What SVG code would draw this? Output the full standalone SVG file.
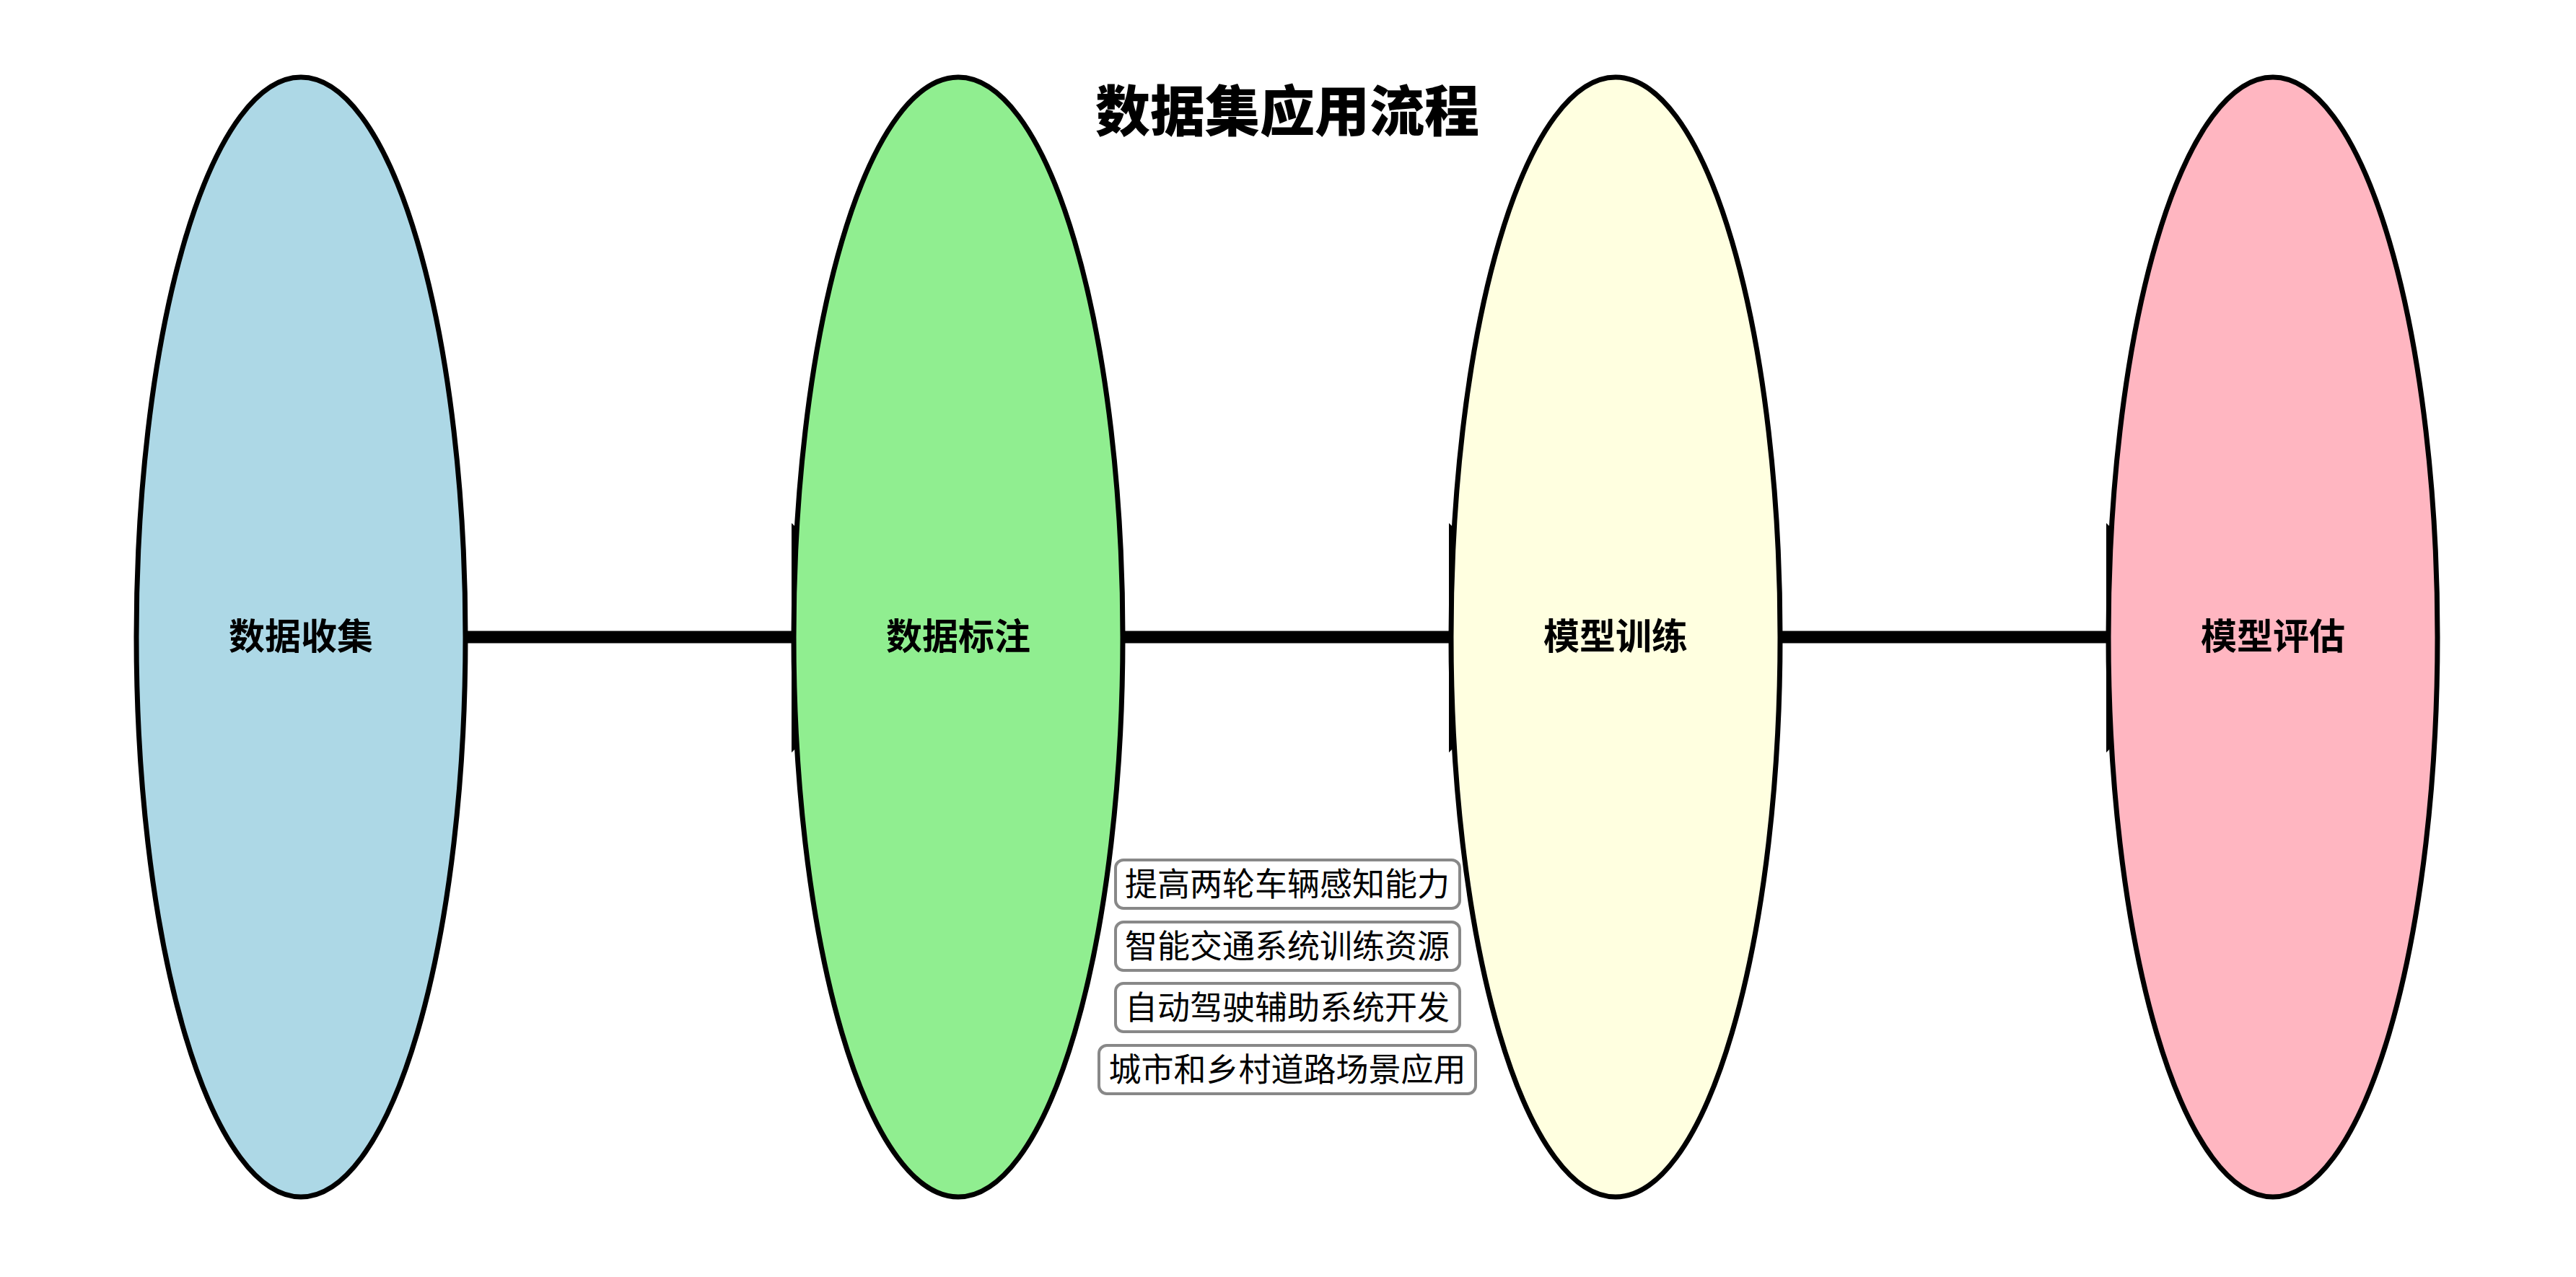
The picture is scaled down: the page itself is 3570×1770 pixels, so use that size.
<svg xmlns="http://www.w3.org/2000/svg" width="3570" height="1770" viewBox="0 0 3570 1770">
<style>
.node{stroke:#000;stroke-width:7}
.lbl{font-family:"Noto Sans CJK SC","Noto Sans",sans-serif;font-weight:bold;font-size:50px;text-anchor:middle;dominant-baseline:central;fill:#000}
.title{font-family:"Noto Sans CJK SC","Noto Sans",sans-serif;font-weight:900;font-size:76px;text-anchor:middle;dominant-baseline:central;fill:#000}
.box{fill:#fff;stroke:#888;stroke-width:4}
.btxt{font-family:"Noto Sans CJK SC","Noto Sans",sans-serif;font-size:45px;text-anchor:middle;dominant-baseline:central;fill:#000}
.edge{stroke:#000;stroke-width:17;fill:none}
</style>
<rect width="3570" height="1770" fill="#fff"/>
<g id="connectors">
<line class="edge" x1="645" y1="883" x2="1102" y2="883"/>
<polygon points="1097,725 1097,1043 1260,883" fill="#000"/>
<line class="edge" x1="1555" y1="883" x2="2013" y2="883"/>
<polygon points="2008,725 2008,1043 2170,883" fill="#000"/>
<line class="edge" x1="2466" y1="883" x2="2924" y2="883"/>
<polygon points="2919,725 2919,1043 3080,883" fill="#000"/>
</g>
<g id="node1"><ellipse class="node" cx="417" cy="883" rx="228" ry="776" fill="#ADD8E6"/><text class="lbl" x="417" y="878">数据收集</text></g>
<g id="node2"><ellipse class="node" cx="1328" cy="883" rx="228" ry="776" fill="#90EE90"/><text class="lbl" x="1328" y="878">数据标注</text></g>
<g id="node3"><ellipse class="node" cx="2239" cy="883" rx="228" ry="776" fill="#FFFFE0"/><text class="lbl" x="2239" y="878">模型训练</text></g>
<g id="node4"><ellipse class="node" cx="3150" cy="883" rx="228" ry="776" fill="#FFB6C1"/><text class="lbl" x="3150" y="878">模型评估</text></g>
<g id="title"><text class="title" x="1784" y="149">数据集应用流程</text></g>
<g id="notes">
<rect class="box" x="1546" y="1192" width="477" height="67" rx="11"/><text class="btxt" x="1784" y="1222">提高两轮车辆感知能力</text>
<rect class="box" x="1546" y="1278" width="477" height="67" rx="11"/><text class="btxt" x="1784" y="1308">智能交通系统训练资源</text>
<rect class="box" x="1546" y="1363" width="477" height="67" rx="11"/><text class="btxt" x="1784" y="1393">自动驾驶辅助系统开发</text>
<rect class="box" x="1523" y="1449" width="522" height="67" rx="11"/><text class="btxt" x="1784" y="1479">城市和乡村道路场景应用</text>
</g>
</svg>
